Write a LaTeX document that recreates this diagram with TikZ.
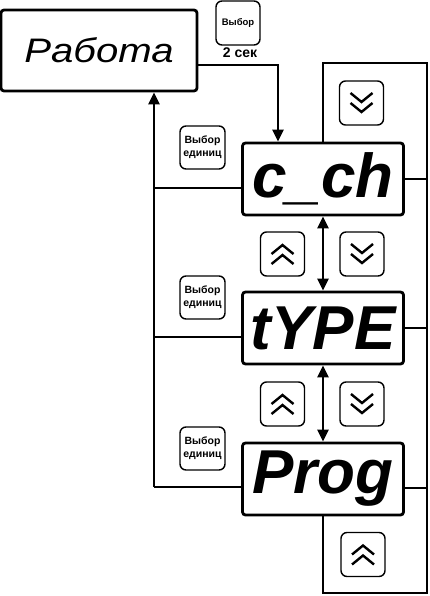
\documentclass[tikz,border=0pt]{standalone}
\usepackage{fontspec}
\setmainfont{Liberation Sans}
\usetikzlibrary{arrows.meta}
\begin{document}
\begin{tikzpicture}[x=1pt,y=-1pt,line join=miter,
  mainbox/.style={draw,line width=2.8pt,rounded corners=3pt,minimum width=196pt,minimum height=81pt,inner sep=0pt},
  disp/.style={draw,line width=2.8pt,rounded corners=3pt,minimum width=161pt,minimum height=72pt,inner sep=0pt,
    font=\bfseries\itshape\fontsize{62}{64}\selectfont},
  btn/.style={draw,line width=1.4pt,rounded corners=6pt,minimum width=44pt,minimum height=44pt,inner sep=0pt,
    align=center,font=\bfseries\fontsize{10.5}{13}\selectfont},
  conn/.style={line width=2.8pt},
  tipped/.style={-{Triangle[length=12pt,width=11pt]}},
  dtipped/.style={{Triangle[length=12pt,width=11pt]}-{Triangle[length=12pt,width=11pt]}},
  dchev/.pic={\draw[line width=2.4pt,line cap=butt,line join=miter] (-11,-10) -- (0,-1) -- (11,-10) (-11,0) -- (0,9) -- (11,0);},
  uchev/.pic={\draw[line width=2.4pt,line cap=butt,line join=miter] (-11,10) -- (0,1) -- (11,10) (-11,0) -- (0,-9) -- (11,0);}
]
\useasboundingbox (0,0) rectangle (430,596);
\fill[white] (0,0) rectangle (430,596);

% main box
\node[mainbox] (work) at (99,50.5) {\scalebox{1.18}[1]{\itshape\fontsize{34}{38}\selectfont Работа}};
\node[btn,font=\bfseries\fontsize{9.5}{12}\selectfont] (seltop) at (238,23) {Выбор};
\node[font=\bfseries\fontsize{14}{16}\selectfont,inner sep=0pt] (sec) at (240,53) {2 сек};

% displays
\node[disp] (cch) at (323,179) {c\_ch};
\node[disp] (type) at (323,328) {tYPE};
\node[disp] (prog) at (323,479) {Prog};

% unit select buttons
\node[btn,minimum width=45pt,minimum height=43pt] (unit1) at (202.5,147.5) {Выбор\\единиц};
\node[btn,minimum width=45pt,minimum height=43pt] (unit2) at (202.5,297.5) {Выбор\\единиц};
\node[btn,minimum width=45pt,minimum height=43pt] (unit3) at (202.5,448.5) {Выбор\\единиц};

% arrow buttons
\node[btn] (down0) at (361.5,103) {};
\node[btn] (up1) at (282.5,254) {};
\node[btn] (down1) at (362,254) {};
\node[btn] (up2) at (282.5,404) {};
\node[btn] (down2) at (362,404) {};
\node[btn] (up3) at (363,554.5) {};
\pic at (down0) {dchev};
\pic at (down1) {dchev};
\pic at (down2) {dchev};
\pic at (up1) {uchev};
\pic at (up2) {uchev};
\pic at (up3) {uchev};

% connectors
\coordinate (lb) at (154,487);
\coordinate (rt) at (427,63);
\coordinate (rb) at (427,593);
\coordinate (w1) at ([yshift=-14.5pt]work.east);
\coordinate (c1) at ([xshift=-45pt]cch.north);
\coordinate (cl) at ([yshift=-9pt]cch.west);
\coordinate (tl) at ([yshift=-9pt]type.west);
\coordinate (pl) at ([yshift=-8pt]prog.west);
\coordinate (pr) at ([yshift=-9pt]prog.east);
\coordinate (wb) at ([xshift=55pt]work.south);

\draw[conn,tipped] (w1) -| (c1);
\draw[conn] (pl) -- (lb);
\draw[conn,tipped] (lb) -- (wb);
\draw[conn] (cl) -- (cl -| lb);
\draw[conn] (tl) -- (tl -| lb);
\draw[conn,dtipped] (cch.south) -- (type.north);
\draw[conn,dtipped] (type.south) -- (prog.north);
\draw[conn] (cch.north) |- (rt) -- (rb) -| (prog.south);
\draw[conn] (cch.east) -- (cch.east -| rt);
\draw[conn] (type.east) -- (type.east -| rt);
\draw[conn] (pr) -- (pr -| rt);
\end{tikzpicture}
\end{document}
